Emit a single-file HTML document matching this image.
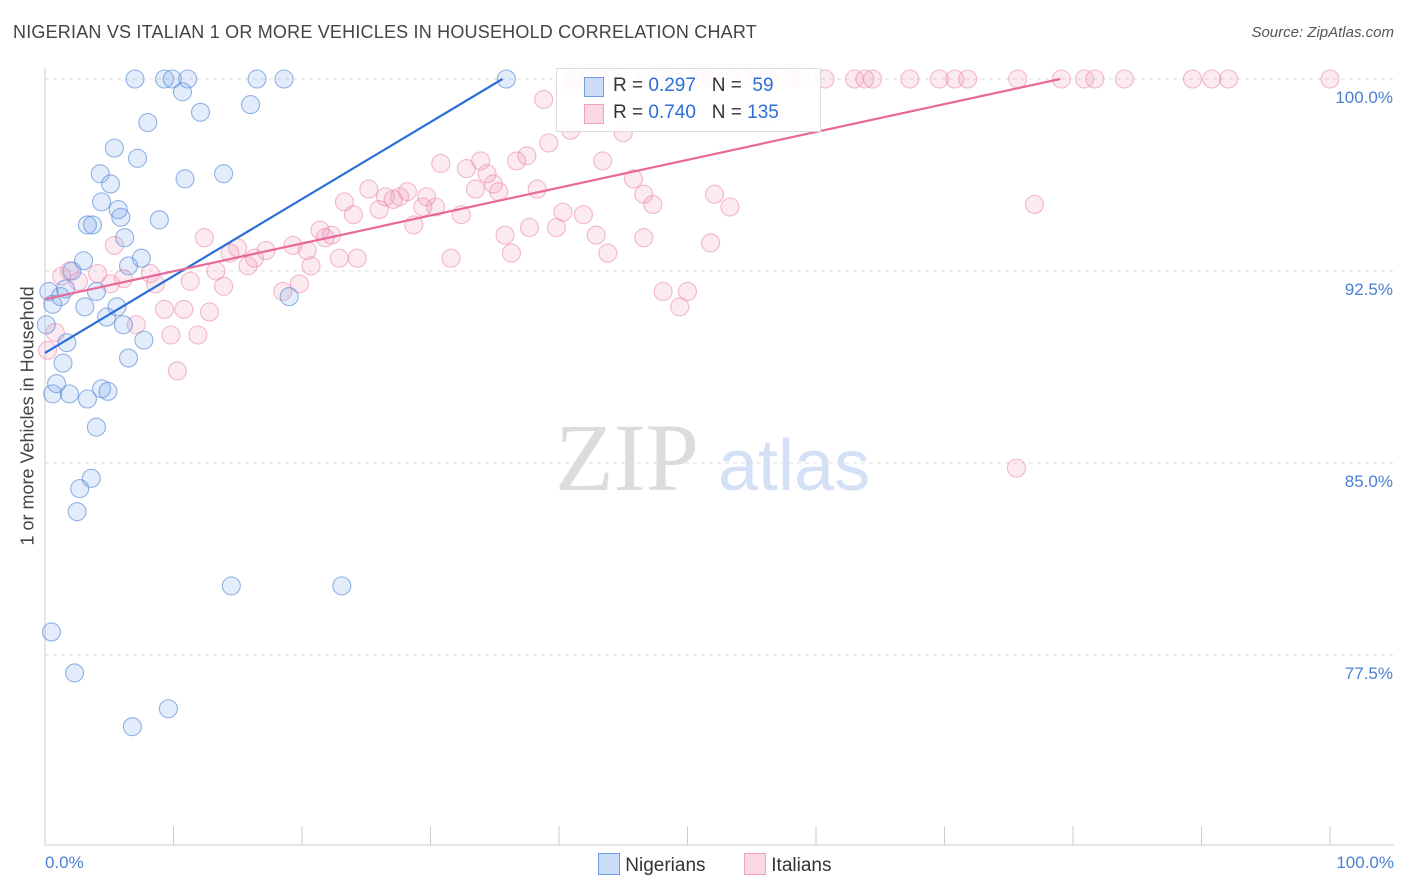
<!DOCTYPE html>
<html><head><meta charset="utf-8">
<style>
body{margin:0;background:#fff;font-family:"Liberation Sans",sans-serif;}
#wrap{position:relative;width:1406px;height:892px;overflow:hidden}
.t{position:absolute;white-space:nowrap}
</style></head>
<body>
<div id="wrap">
<div class="t" style="left:13px;top:22px;font-size:18px;letter-spacing:0.2px;color:#444">NIGERIAN VS ITALIAN 1 OR MORE VEHICLES IN HOUSEHOLD CORRELATION CHART</div>
<div class="t" style="right:12px;top:24px;font-size:15px;color:#555;font-style:italic">Source: ZipAtlas.com</div>
<svg id="svg" width="1406" height="892" style="position:absolute;left:0;top:0"></svg>
</div>
<script>
const yTicks=[100,92.5,85,77.5];
const yTickLabels=["100.0%","92.5%","85.0%","77.5%"];
const nigX=[7.0,9.3,9.9,11.1,16.5,18.6,35.9,10.7,16.0,12.1,8.0,5.4,7.2,4.3,10.9,13.9,5.1,4.4,5.7,5.9,8.9,3.3,3.7,6.2,7.5,3.0,6.5,2.1,0.3,1.6,1.2,4.0,19.0,0.6,3.1,5.6,4.8,6.1,0.1,7.7,1.7,6.5,1.4,0.9,4.4,4.9,0.6,1.9,3.3,4.0,3.6,2.7,2.5,14.5,23.1,0.5,2.3,9.6,6.8];
const nigY=[100,100,100,100,100,100,100,99.5,99.0,98.7,98.3,97.3,96.9,96.3,96.1,96.3,95.9,95.2,94.9,94.6,94.5,94.3,94.3,93.8,93.0,92.9,92.7,92.5,91.7,91.8,91.5,91.7,91.5,91.2,91.1,91.1,90.7,90.4,90.4,89.8,89.7,89.1,88.9,88.1,87.9,87.8,87.7,87.7,87.5,86.4,84.4,84.0,83.1,80.2,80.2,78.4,76.8,75.4,74.7];
const itaX=[41.2,42.4,43.2,44.1,45.7,46.9,47.9,48.8,50.2,51.0,51.9,53.3,54.5,55.6,56.4,58.0,58.8,60.7,63.0,63.8,64.4,67.3,69.6,70.8,71.8,75.7,79.1,80.9,81.7,84.0,89.3,90.8,92.1,100,
38.8,41.0,45.1,40.9,45.0,39.2,56.4,37.5,30.8,43.4,33.9,36.7,32.8,34.4,34.9,45.8,33.5,38.3,28.2,25.2,35.3,52.1,46.6,26.5,27.1,27.6,29.7,29.4,30.4,23.3,26.0,24.0,40.3,41.9,47.3,53.3,77.0,32.4,28.7,21.4,22.3,35.8,37.7,39.8,42.9,46.6,51.8,12.4,15.0,17.2,19.3,20.4,21.8,36.3,43.8,31.6,5.4,14.4,16.3,15.8,22.9,24.3,20.7,1.9,4.1,1.3,6.1,8.2,13.3,2.6,5.1,11.3,8.6,13.9,19.8,18.5,48.1,50.0,49.4,9.3,10.8,12.8,7.1,9.8,11.9,0.8,0.2,10.3,75.6];
const itaY=[100,100,100,100,100,100,100,100,100,100,100,100,100,100,100,100,100,100,100,100,100,100,100,100,100,100,100,100,100,100,100,100,100,100,
99.2,99.8,98.9,98.0,97.9,97.5,98.7,97.0,96.7,96.8,96.8,96.8,96.5,96.3,95.9,96.1,95.7,95.7,95.6,95.7,95.6,95.5,95.5,95.4,95.3,95.4,95.4,95.0,95.0,95.2,94.9,94.7,94.8,94.7,95.1,95.0,95.1,94.7,94.3,94.1,93.9,93.9,94.2,94.2,93.9,93.8,93.6,93.8,93.4,93.3,93.5,93.3,93.8,93.2,93.2,93.0,93.5,93.2,93.0,92.7,93.0,93.0,92.7,92.5,92.4,92.3,92.2,92.4,92.5,92.1,92.0,92.1,92.0,91.9,92.0,91.7,91.7,91.7,91.1,91.0,91.0,90.9,90.4,90.0,90.0,90.1,89.4,88.6,84.8];
const nigLine=[[0,89.3],[35.6,100]];
const itaLine=[[0,91.4],[79,100]];

const X=v=>45+v*12.85;
const Y=v=>79+(100-v)*25.6;
const svg=document.getElementById('svg');
const NS='http://www.w3.org/2000/svg';
function mk(tag,attrs,parent){const e=document.createElementNS(NS,tag);for(const k in attrs)e.setAttribute(k,attrs[k]);(parent||svg).appendChild(e);return e;}

yTicks.forEach((t,i)=>{
  const g=mk('line',{x1:45,x2:1394,y1:Y(t),y2:Y(t),stroke:'#ddd','stroke-dasharray':'4,4'});
  
  
  const tx=mk('text',{x:1393,y:Y(t)+24,'text-anchor':'end','font-size':17,fill:'#4a7fd4','font-family':'Liberation Sans'});
  tx.textContent=yTickLabels[i];
  
  
});
const ax=mk('line',{x1:45,x2:1394,y1:845,y2:845,stroke:'#ccc'});


const ay=mk('line',{x1:45,x2:45,y1:68,y2:845,stroke:'#ccc'});


for(let i=0;i<=10;i++){
  const tk=mk('line',{x1:X(i*10),x2:X(i*10),y1:826,y2:845,stroke:'#ccc'});
  
  
}
const wm=mk('text',{x:555,y:490,'font-size':96,fill:'#dcdcdc','font-family':'Liberation Serif'});
wm.textContent='ZIP';


const wm2=mk('text',{x:718,y:490,'font-size':72,fill:'#d3e0f5','font-family':'Liberation Sans'});
wm2.textContent='atlas';



itaX.forEach((x,i)=>{
  const c=mk('circle',{cx:X(x),cy:Y(itaY[i]),r:9,fill:'rgba(240,140,175,0.18)',stroke:'rgba(235,140,175,0.6)','stroke-width':1.1});
  
  
});
nigX.forEach((x,i)=>{
  const c=mk('circle',{cx:X(x),cy:Y(nigY[i]),r:9,fill:'rgba(110,160,230,0.2)',stroke:'rgba(90,140,215,0.65)','stroke-width':1.1});
  
  
});
const l1=mk('line',{x1:X(nigLine[0][0]),y1:Y(nigLine[0][1]),x2:X(nigLine[1][0]),y2:Y(nigLine[1][1]),stroke:'#2a6fd6','stroke-width':2.2});


const l2=mk('line',{x1:X(itaLine[0][0]),y1:Y(itaLine[0][1]),x2:X(itaLine[1][0]),y2:Y(itaLine[1][1]),stroke:'#e8689a','stroke-width':2.2});


</script>
<div class="t" style="left:-62px;top:445px;font-size:18px;color:#444;transform:rotate(-90deg);width:180px;text-align:center">1 or more Vehicles in Household</div>
<div class="t" style="left:45px;top:853px;font-size:17px;color:#4a7fd4">0.0%</div>
<div class="t" style="right:12px;top:853px;font-size:17px;color:#4a7fd4">100.0%</div>
<div style="position:absolute;left:556px;top:68px;width:263px;height:62px;border:1px solid #ddd;background:rgba(255,255,255,0.9);font-size:19px;color:#333">
 <div style="position:absolute;left:27px;top:8px;width:18px;height:18px;background:rgba(110,160,230,0.35);border:1px solid #6f9fe0"></div>
 <div class="t" style="left:56px;top:6px">R = <span style="color:#2a6fd6">0.297</span> &nbsp;&nbsp;N = &nbsp;<span style="color:#2a6fd6">59</span></div>
 <div style="position:absolute;left:27px;top:35px;width:18px;height:18px;background:rgba(240,140,175,0.35);border:1px solid #f0a0bb"></div>
 <div class="t" style="left:56px;top:33px">R = <span style="color:#2a6fd6">0.740</span> &nbsp;&nbsp;N = <span style="color:#2a6fd6">135</span></div>
</div>
<div style="position:absolute;left:598px;top:853px;font-size:19px;color:#333">
 <span style="display:inline-block;width:20px;height:20px;background:rgba(110,160,230,0.35);border:1px solid #6f9fe0;vertical-align:-4px"></span> Nigerians</div>
<div style="position:absolute;left:744px;top:853px;font-size:19px;color:#333">
 <span style="display:inline-block;width:20px;height:20px;background:rgba(240,140,175,0.35);border:1px solid #f0a0bb;vertical-align:-4px"></span> Italians</div>
</body></html>
